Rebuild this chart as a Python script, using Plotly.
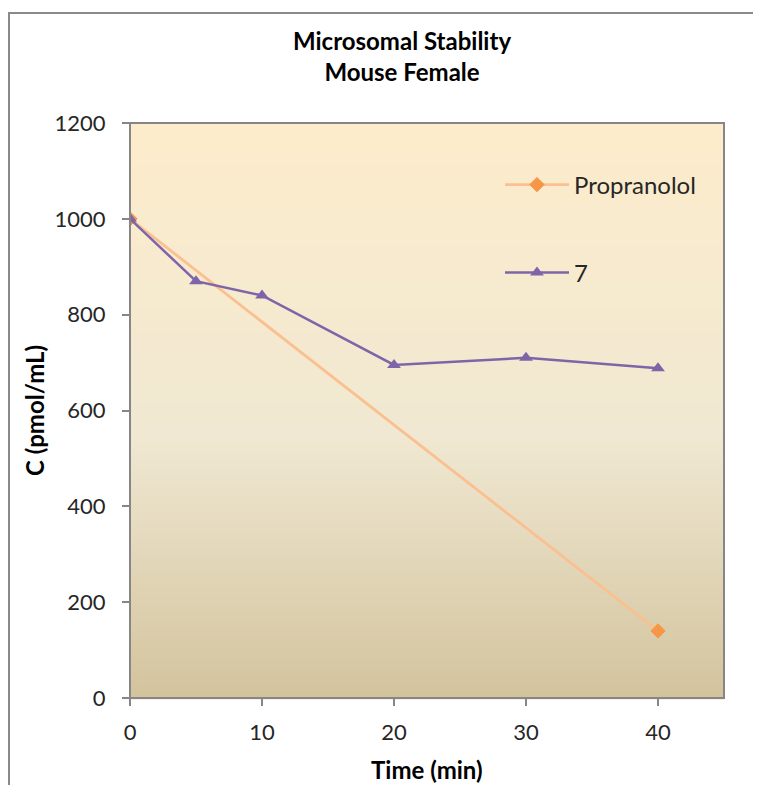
import plotly.graph_objects as go

# Data
time_prop = [0, 40]
conc_prop = [1000, 140]
time_7 = [0, 5, 10, 20, 30, 40]
conc_7 = [1000, 870, 840, 695, 710, 688]

x_ticks = [0, 10, 20, 30, 40]
y_ticks = [0, 200, 400, 600, 800, 1000, 1200]

FONT = "Lato, 'Open Sans', sans-serif"

OFF = 8  # page body margin
W, H = 761 - OFF, 785 - OFF
# plot area in screen pixels: left 130, right 724, top 123, bottom 698
L, T = 130 - OFF, 123 - OFF
R, B = W - (724 - OFF), H - (698 - OFF)
PW, PH = W - L - R, H - T - B

def px_x(x):
    return (x - OFF - L) / PW

def px_y(y):
    return (H - B - (y - OFF)) / PH

fig = go.Figure()

fig.add_trace(go.Scatter(
    x=time_prop, y=conc_prop, name="Propranolol", mode="lines+markers",
    line=dict(color="#FAC090", width=2.8),
    marker=dict(symbol="diamond", size=11, color="#F79646",
                line=dict(color="#F79646", width=1)),
    legend="legend",
))
fig.add_trace(go.Scatter(
    x=time_7, y=conc_7, name="7", mode="lines+markers",
    line=dict(color="#7E64A8", width=2.5),
    marker=dict(symbol="triangle-up", size=12, color="#7E64A8"),
    legend="legend2",
))

# gradient background via thin bands
def lerp(c1, c2, t):
    return tuple(round(a + (b - a) * t) for a, b in zip(c1, c2))

top = (253, 236, 204)
mid = (240, 232, 210)
bot = (211, 196, 158)
n = 80
shapes = []
for i in range(n):
    t = i / (n - 1)
    if t < 0.55:
        c = lerp(top, mid, t / 0.55)
    else:
        c = lerp(mid, bot, (t - 0.55) / 0.45)
    y1 = 1 - i / n
    y0 = 1 - (i + 1) / n
    shapes.append(dict(type="rect", xref="x domain", yref="y domain",
                       x0=0, x1=1, y0=y0 - 0.002, y1=y1,
                       fillcolor="rgb(%d,%d,%d)" % c, line=dict(width=0),
                       layer="below"))
# plot area frame
shapes.append(dict(type="rect", xref="x domain", yref="y domain",
                   x0=0, x1=1, y0=0, y1=1,
                   line=dict(color="#868686", width=2), layer="above"))
# outer chart border
shapes.append(dict(type="rect", xref="paper", yref="paper",
                   x0=px_x(9), x1=px_x(800), y0=px_y(820), y1=px_y(13),
                   line=dict(color="#8A8A8A", width=2), layer="below"))

legend_common = dict(xanchor="left", yanchor="middle",
                     bgcolor="rgba(0,0,0,0)",
                     font=dict(family=FONT, size=24, color="#262626"),
                     itemwidth=64)

fig.update_layout(
    width=W, height=H,
    margin=dict(l=L, r=R, t=T, b=B, autoexpand=False),
    paper_bgcolor="white",
    plot_bgcolor="rgba(0,0,0,0)",
    font=dict(family=FONT, size=22, color="#262626"),
    title=dict(text="<b>Microsomal Stability<br>Mouse Female</b>",
               x=(402 - OFF) / W, xanchor="center",
               y=1 - (50 - OFF) / H, yanchor="middle",
               font=dict(family=FONT, size=24, color="#000000")),
    showlegend=True,
    legend=dict(x=px_x(500), y=px_y(185), **legend_common),
    legend2=dict(x=px_x(500), y=px_y(273), **legend_common),
    shapes=shapes,
    annotations=[
        dict(text="<b>Time (min)</b>", xref="paper", yref="paper",
             x=px_x(427), y=px_y(770), xanchor="center", yanchor="middle",
             showarrow=False, font=dict(family=FONT, size=24, color="#000000")),
        dict(text="<b>C (pmol/mL)</b>", xref="paper", yref="paper",
             x=px_x(34), y=px_y(410), xanchor="center", yanchor="middle",
             textangle=-90, showarrow=False,
             font=dict(family=FONT, size=24, color="#000000")),
    ],
)

fig.update_xaxes(
    range=[0, 45], tickvals=x_ticks, ticks="outside", ticklen=7,
    tickcolor="#868686", tickwidth=2, showgrid=False, zeroline=False,
    showline=False, automargin=False, ticklabelstandoff=8,
    tickfont=dict(size=22, color="#262626"),
)
fig.update_yaxes(
    range=[0, 1200], tickvals=y_ticks, ticks="outside", ticklen=7,
    tickcolor="#868686", tickwidth=2, showgrid=False, zeroline=False,
    showline=False, automargin=False, ticklabelstandoff=12,
    tickfont=dict(size=22, color="#262626"),
)

fig.write_html("out.html")
